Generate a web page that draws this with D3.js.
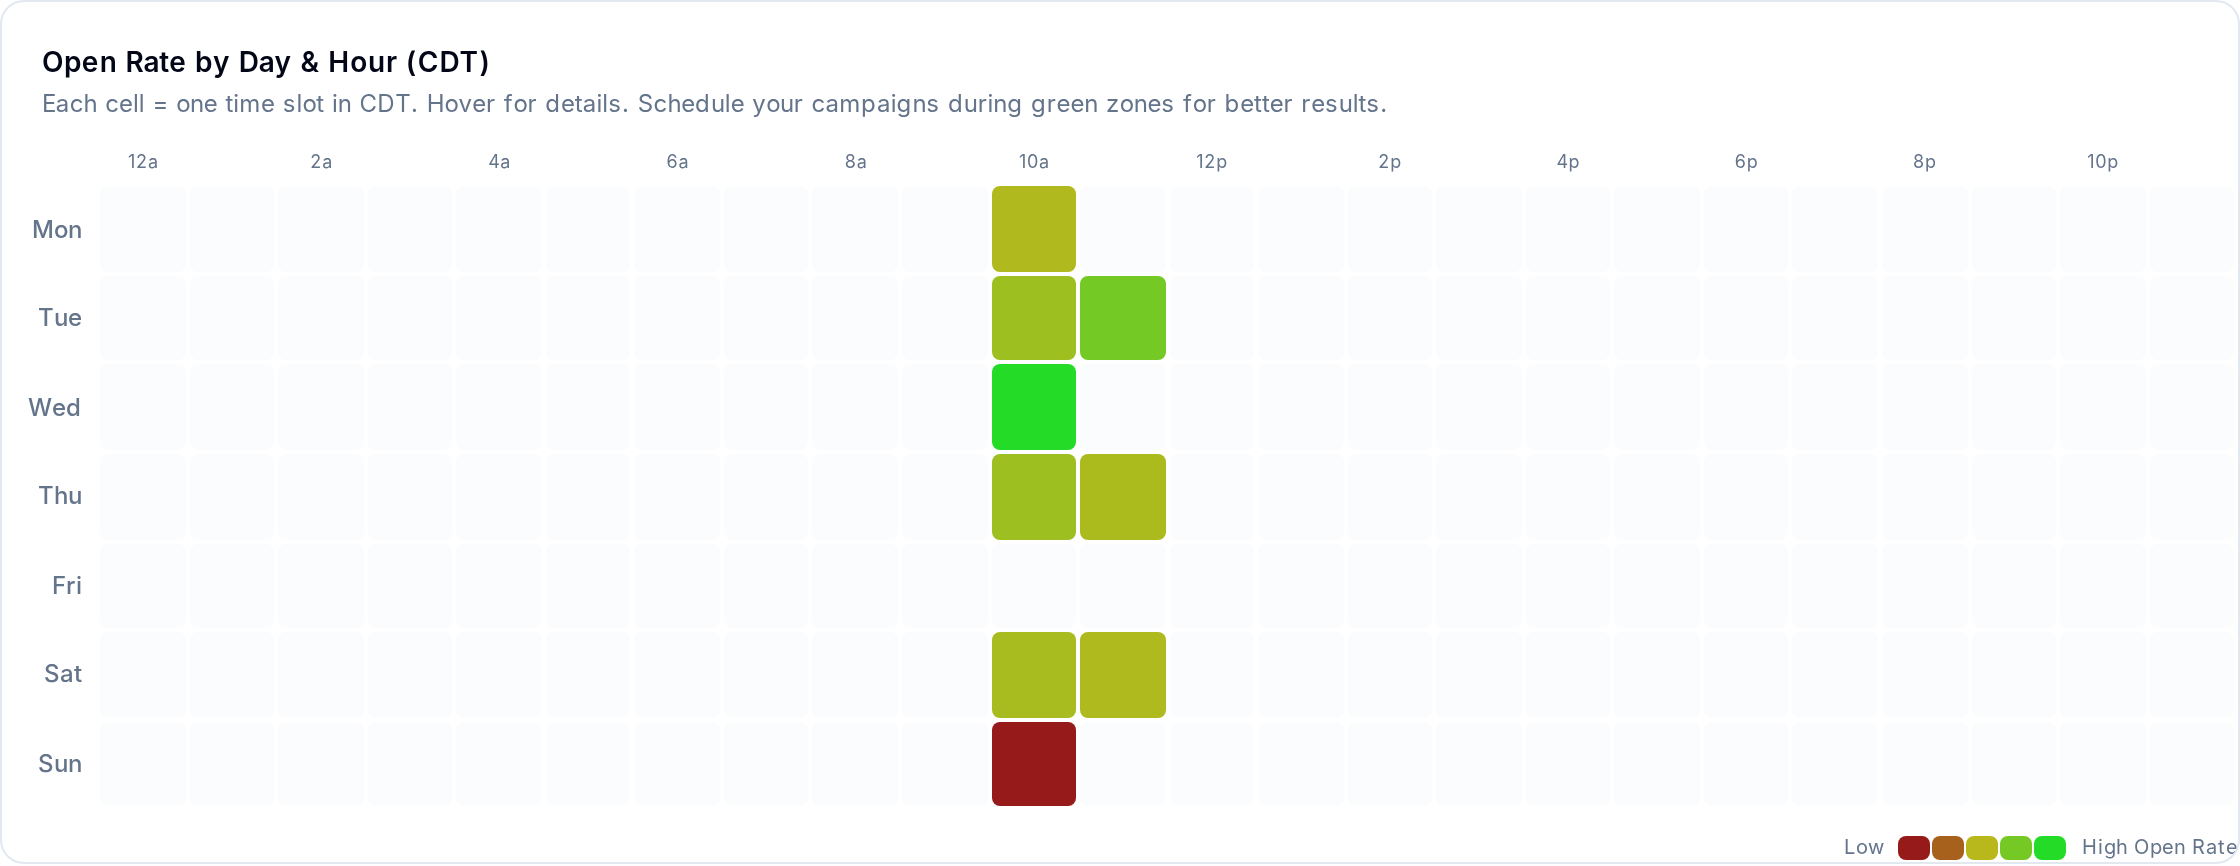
<!DOCTYPE html>
<html>
<head>
<meta charset="utf-8">
<script src="https://cdn.jsdelivr.net/npm/d3@7"></script>
<style>
  html, body { margin: 0; padding: 0; background: #fff; }
  #card {
    position: absolute; left: 0; top: 0; width: 2240px; height: 864px;
    box-sizing: border-box; border: 2px solid #e2e8f0; border-radius: 24px;
    background: #fff; overflow: hidden;
  }
  #chart { position: absolute; left: -2px; top: -2px; display: block; }
  #labels {
    position: absolute; left: -2px; top: -2px; width: 1120px; height: 433px;
    transform: scale(2); transform-origin: 0 0; font-family: Inter, sans-serif;
    font-kerning: none;
  }
  #labels div { position: absolute; white-space: pre; color: #64748b; }
</style>
</head>
<body>
<div id="card">
  <svg id="chart" width="2240" height="866"></svg>
  <div id="labels"></div>
</div>
<script>
const days = ['Mon', 'Tue', 'Wed', 'Thu', 'Fri', 'Sat', 'Sun']
const hours = ['12a', '1a', '2a', '3a', '4a', '5a', '6a', '7a', '8a', '9a', '10a', '11a',
  '12p', '1p', '2p', '3p', '4p', '5p', '6p', '7p', '8p', '9p', '10p', '11p']
const hourTicks = ['12a', '2a', '4a', '6a', '8a', '10a', '12p', '2p', '4p', '6p', '8p', '10p']
// relative open rate per day (0 = low, 1 = high)
const score10a = [0.53, 0.6, 1, 0.6, null, 0.56, 0]
const score11a = [null, 0.755, null, 0.55, null, 0.535, null]
const legendStops = [0, 0.25, 0.5, 0.75, 1]
const legendColors = ['#971a1a', '#a8611d', '#b8b81d', '#76c924', '#24dc28']

const svg = d3.select('#chart')
const labels = d3.select('#labels')
const color = d3.scaleLinear().domain(legendStops).range(legendColors)

const step = 89.1
const gap = 4
const x = d3.scaleBand().domain(hours).range([100.02, 100.02 + 24 * step - gap]).paddingInner(gap / step)
const y = d3.scaleBand().domain(days).range([186.6, 186.6 + 7 * step - gap]).paddingInner(gap / step)

// cells sit on the even pixel grid
const snap = v => Math.round(v / 2) * 2

const scoreOf = (day, hour) => {
  const i = days.indexOf(day)
  if (hour === '10a') return score10a[i]
  if (hour === '11a') return score11a[i]
  return null
}

const cells = days.flatMap(day => hours.map(hour => ({ day, hour, score: scoreOf(day, hour) })))

svg.selectAll('rect.cell')
  .data(cells)
  .join('rect')
  .attr('class', 'cell')
  .attr('x', d => snap(x(d.hour)))
  .attr('y', d => snap(y(d.day)))
  .attr('width', d => snap(x(d.hour) + x.bandwidth()) - snap(x(d.hour)))
  .attr('height', d => snap(y(d.day) + y.bandwidth()) - snap(y(d.day)))
  .attr('rx', 8)
  .attr('fill', d => d.score === null ? '#fbfcfe' : color(d.score))

const ctx = document.createElement('canvas').getContext('2d')

// text lives in a layer scaled by 2, so every coordinate here is in layer units.
// each glyph advance is pushed to a whole layer pixel, like the hinted text of the original
function label (text, opts) {
  const fs = opts.size
  const weight = opts.weight || 400
  const bias = opts.bias === undefined ? 0.25 : opts.bias
  const extra = opts.extra || 0
  const lh = fs * 2
  const top = Math.round(opts.baseline / 2 - lh / 2 - 0.3636 * fs)
  const el = labels.append('div')
    .style('top', top + 'px')
    .style('line-height', lh + 'px')
    .style('font-size', fs + 'px')
    .style('font-weight', weight)
  ctx.font = `${weight} ${fs}px Inter`
  el.selectAll('span')
    .data(Array.from(text))
    .join('span')
    .style('letter-spacing', c => {
      const adv = ctx.measureText(c).width
      return (Math.round(adv + bias) - adv + extra) + 'px'
    })
    .text(c => c)
  if (opts.color) el.style('color', opts.color)
  if (opts.align === 'center') {
    el.style('left', (opts.x / 2 - 40) + 'px').style('width', '80px').style('text-align', 'center')
  } else if (opts.align === 'right') {
    el.style('left', (opts.x / 2 - 80) + 'px').style('width', '80px').style('text-align', 'right')
  } else {
    el.style('left', (opts.x / 2) + 'px')
  }
  return el
}

hourTicks.forEach(h => label(h, { x: x(h) + x.bandwidth() / 2 + 0.4, baseline: 168, size: 9, align: 'center' }))
days.forEach(d => label(d, { x: 82, baseline: snap(y(d) + y.bandwidth() / 2 + 8), size: 12, weight: 500, align: 'right' }))

label('Open Rate by Day & Hour (CDT)', { x: 42, baseline: 72, size: 14, weight: 600, color: '#020617', bias: 0.28, extra: -0.05 })
label('Each cell = one time slot in CDT. Hover for details. Schedule your campaigns during green zones for better results.',
  { x: 42, baseline: 113, size: 12, bias: 0.2, extra: -0.08 })

// legend
const legendX = d3.scaleBand().domain(legendStops).range([1898, 2066]).paddingInner(2 / 34)

svg.selectAll('rect.swatch')
  .data(legendStops)
  .join('rect')
  .attr('class', 'swatch')
  .attr('x', d => legendX(d))
  .attr('y', 836)
  .attr('width', legendX.bandwidth())
  .attr('height', 24)
  .attr('rx', 8)
  .attr('fill', d => color(d))

label('Low', { x: 1844, baseline: 854, size: 10 })
label('High Open Rate', { x: 2082, baseline: 854, size: 10 })
</script>
</body>
</html>
